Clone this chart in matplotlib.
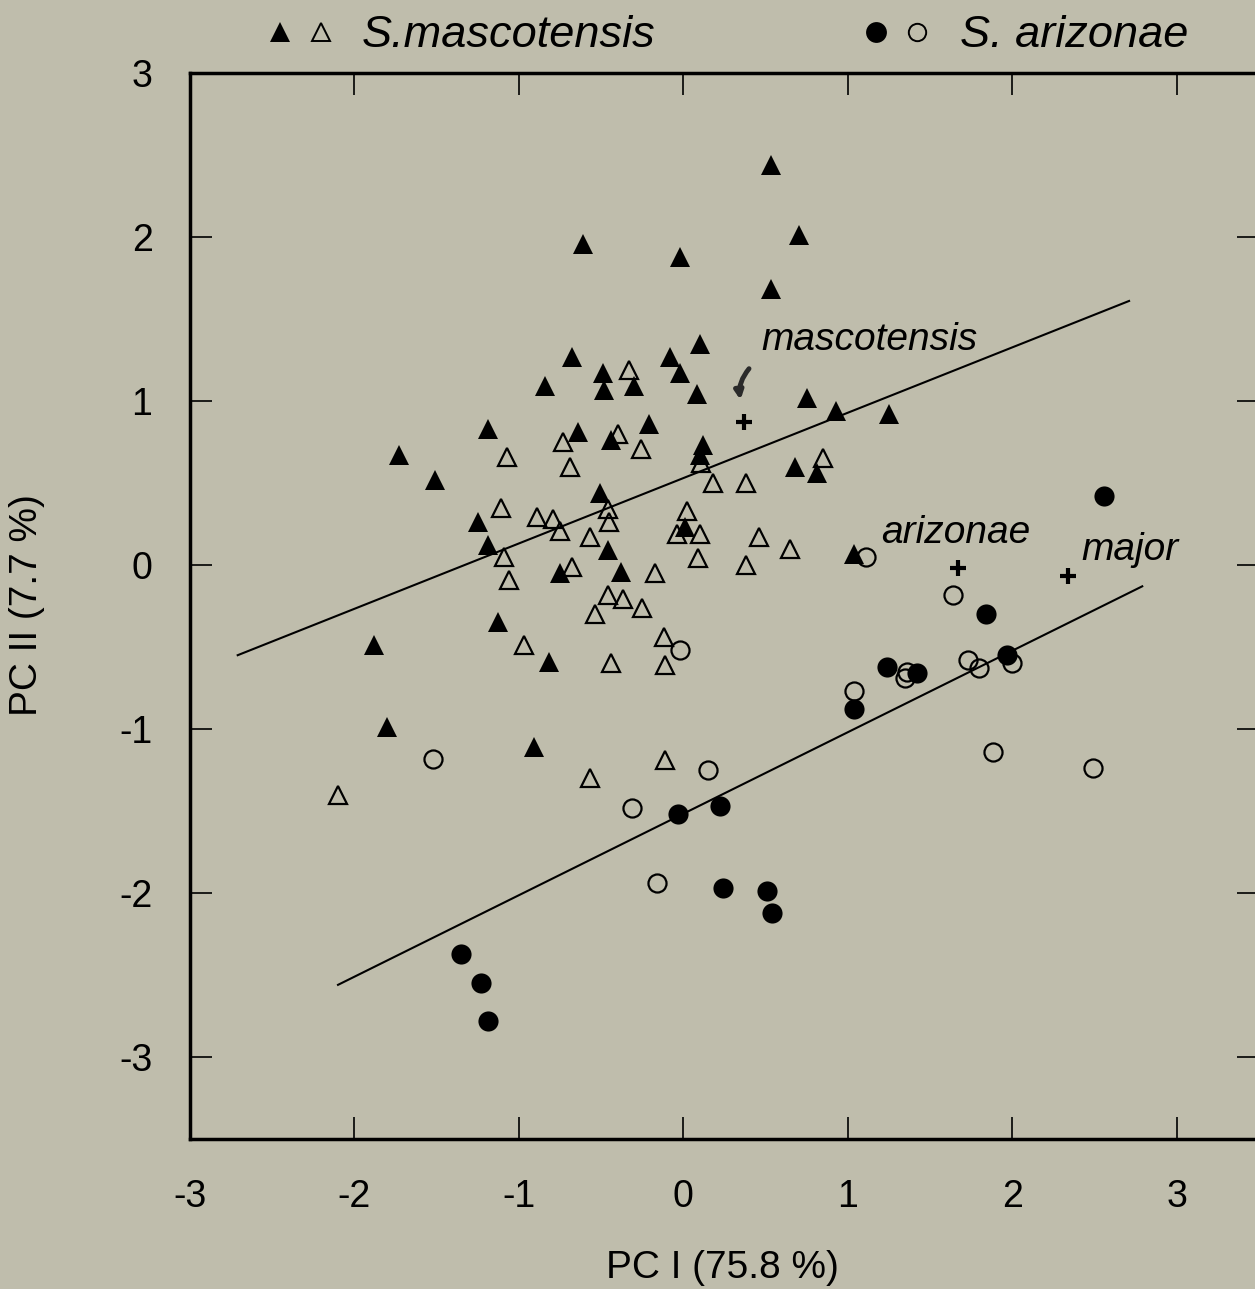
import matplotlib
matplotlib.use("Agg")
import matplotlib.pyplot as plt

plt.rcParams['font.family'] = ['Liberation Sans', 'DejaVu Sans']
plt.rcParams['axes.unicode_minus'] = False

# S. mascotensis, filled triangles
masc_filled_x = [0.53, 0.70, -0.61, -0.02, 0.53, 0.10, -0.68, -0.08, -0.49, -0.02,
                 -0.30, -0.84, -0.48, 0.08, 0.75, 0.93, 1.25, -0.21, -1.19, -0.64,
                 -0.44, 0.12, 0.10, -1.73, 0.68, 0.81, -1.51, -0.51, -1.25, 0.01,
                 -1.19, -0.46, 1.04, -0.75, -0.38, -1.13, -1.88, -0.82, -1.80, -0.91]
masc_filled_y = [2.44, 2.01, 1.96, 1.88, 1.68, 1.35, 1.27, 1.27, 1.17, 1.17,
                 1.09, 1.09, 1.07, 1.04, 1.02, 0.94, 0.92, 0.86, 0.83, 0.81,
                 0.76, 0.73, 0.67, 0.67, 0.60, 0.56, 0.52, 0.44, 0.26, 0.23,
                 0.12, 0.09, 0.07, -0.05, -0.04, -0.35, -0.49, -0.59, -0.99, -1.11]

# S. mascotensis, open triangles
masc_open_x = [-0.33, -0.40, -0.73, -0.26, -1.07, -0.69, 0.11, 0.85, 0.18, 0.38,
               -1.11, -0.89, -0.79, -0.75, -0.57, -0.46, -0.45, 0.02, -0.04, 0.10,
               0.09, 0.46, 0.65, 0.38, -1.09, -0.68, -0.17, -1.06, -0.46, -0.37,
               -0.25, -0.54, -0.97, -0.12, -0.44, -0.11, -2.10, -0.57, -0.11]
masc_open_y = [1.19, 0.80, 0.75, 0.71, 0.66, 0.60, 0.62, 0.65, 0.50, 0.50,
               0.35, 0.29, 0.28, 0.21, 0.17, 0.34, 0.26, 0.33, 0.19, 0.19,
               0.04, 0.17, 0.10, 0.00, 0.05, -0.01, -0.05, -0.09, -0.18, -0.21,
               -0.26, -0.30, -0.49, -0.44, -0.60, -0.61, -1.40, -1.30, -1.19]

# S. arizonae, filled circles
ariz_filled_x = [2.56, 1.84, 1.97, 1.24, 1.42, 1.04, -0.03, 0.22, 0.24, 0.51,
                 0.54, -1.35, -1.23, -1.19]
ariz_filled_y = [0.42, -0.30, -0.55, -0.62, -0.66, -0.88, -1.52, -1.47, -1.97, -1.99,
                 -2.12, -2.37, -2.55, -2.78]

# S. arizonae, open circles
ariz_open_x = [1.11, 1.64, 1.73, 1.80, 2.00, 1.36, 1.35, 1.04, 1.88, 2.49,
               -0.02, -1.52, 0.15, -0.31, -0.16]
ariz_open_y = [0.05, -0.18, -0.58, -0.63, -0.60, -0.65, -0.69, -0.77, -1.14, -1.24,
               -0.52, -1.18, -1.25, -1.48, -1.94]

# group centroids and their names
centroid_x = [0.37, 1.67, 2.34]
centroid_y = [0.87, -0.02, -0.07]
centroid_names = ['mascotensis', 'arizonae', 'major']
name_x = [0.475, 1.205, 2.42]
name_y = [1.31, 0.134, 0.03]

# regression lines (end points)
line_masc_x = [-2.71, 2.71]
line_masc_y = [-0.55, 1.61]
line_ariz_x = [-2.10, 2.79]
line_ariz_y = [-2.56, -0.13]

bg = '#bfbdac'
fig = plt.figure(figsize=(12.55, 12.89), dpi=100, facecolor=bg)
ax = fig.add_axes([190/1255, 150/1289, 1069/1255, 1066/1289])
ax.set_facecolor(bg)

ax.plot(line_masc_x, line_masc_y, color='black', lw=1.5, zorder=2)
ax.plot(line_ariz_x, line_ariz_y, color='black', lw=1.5, zorder=2)

ax.plot(masc_filled_x, masc_filled_y, '^', ms=15, color='black', mew=0, zorder=3)
ax.plot(masc_open_x, masc_open_y, '^', ms=13.5, mfc='none', mec='black', mew=1.6, zorder=3)
ax.plot(ariz_filled_x, ariz_filled_y, 'o', ms=14.5, color='black', mew=0, zorder=3)
ax.plot(ariz_open_x, ariz_open_y, 'o', ms=13, mfc='none', mec='black', mew=1.6, zorder=3)
ax.plot(centroid_x, centroid_y, '+', ms=12, color='black', mew=3, zorder=3)

for nx, ny, name in zip(name_x, name_y, centroid_names):
    ax.text(nx, ny, name, fontsize=28, fontstyle='italic', ha='left', va='baseline')

# small hand-drawn pointer
ax.annotate('', xy=(0.35, 0.99), xytext=(0.41, 1.21),
            arrowprops=dict(arrowstyle='-|>', color='#2a2a2a', lw=3.5,
                            mutation_scale=12, connectionstyle='arc3,rad=0.25'))

ax.set_xlim(-3, 3.5)
ax.set_ylim(-3.5, 3)
ax.set_xticks([-3, -2, -1, 0, 1, 2, 3])
ax.set_yticks([-3, -2, -1, 0, 1, 2, 3])
ax.tick_params(direction='in', length=16, width=1.2, top=True, right=True,
               labelsize=27)
ax.tick_params(axis='x', pad=29)
ax.tick_params(axis='y', pad=27)
for s in ax.spines.values():
    s.set_linewidth(2.5)

ax.set_xlabel('PC I (75.8 %)', fontsize=28)
ax.set_ylabel('PC II (7.7 %)', fontsize=28)
ax.xaxis.set_label_coords(0.4977, -0.104)
ax.yaxis.set_label_coords(-0.136, 0.501)

# header key
ax.plot([0.0841], [1.0385], '^', ms=14, color='black', mew=0, transform=ax.transAxes, clip_on=False)
ax.plot([0.1225], [1.0385], '^', ms=13, mfc='none', mec='black', mew=1.4,
        transform=ax.transAxes, clip_on=False)
ax.text(0.1609, 1.0245, 'S.mascotensis', fontsize=32.5, fontstyle='italic',
        transform=ax.transAxes, va='baseline')
ax.plot([0.6417], [1.0385], 'o', ms=15, color='black', mew=0, transform=ax.transAxes, clip_on=False)
ax.plot([0.6800], [1.0385], 'o', ms=12.5, mfc='none', mec='black', mew=1.4,
        transform=ax.transAxes, clip_on=False)
ax.text(0.7203, 1.0245, 'S. arizonae', fontsize=32.5, fontstyle='italic',
        transform=ax.transAxes, va='baseline')

fig.savefig('out.png', dpi=100, facecolor=bg)
